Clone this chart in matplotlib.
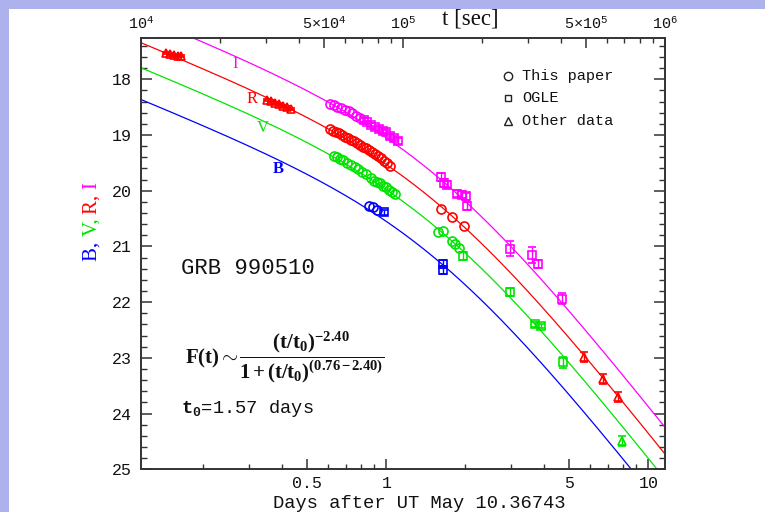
import numpy as np
import matplotlib
matplotlib.use("Agg")
import matplotlib.pyplot as plt
from matplotlib.patches import Rectangle
from matplotlib.ticker import FixedLocator, FixedFormatter, NullFormatter

plt.rcParams['font.family'] = ['Liberation Mono', 'DejaVu Sans']
plt.rcParams['mathtext.fontset'] = 'custom'
plt.rcParams['mathtext.rm'] = 'Liberation Mono'
plt.rcParams['mathtext.it'] = 'Liberation Mono'
plt.rcParams['mathtext.bf'] = 'Liberation Mono:bold'
plt.rcParams['mathtext.sf'] = 'Liberation Serif:bold'

SEC_PER_DAY = 86400.0

# Broken power-law fit parameters
T0 = 1.57
ALPHA1 = 0.76
ALPHA2 = 2.40

BAND_COLORS = {'I': '#ff00ff', 'R': '#ff0000', 'V': '#00e400', 'B': '#0000ff'}
ZERO_POINTS = {'I': 19.00, 'R': 19.48, 'V': 19.93, 'B': 20.50}

# ---- I band ----
I_paper_t = [0.609, 0.631, 0.648, 0.671, 0.695, 0.720, 0.739, 0.766, 0.793]
I_paper_mag = [18.44, 18.46, 18.50, 18.52, 18.55, 18.57, 18.60, 18.66, 18.70]
I_ogle_t = [0.822, 0.844, 0.874, 0.905, 0.937, 0.971, 0.997, 1.032, 1.069, 1.108,
            1.616, 1.660, 1.704, 1.860, 1.944, 2.014, 2.031, 2.965, 3.597, 3.791, 4.682]
I_ogle_mag = [18.73, 18.77, 18.82, 18.86, 18.89, 18.93, 18.95, 19.02, 19.05, 19.11,
              19.75, 19.86, 19.89, 20.05, 20.07, 20.10, 20.27, 21.04, 21.15, 21.31, 21.94]
I_ogle_err = [0.03, 0.03, 0.03, 0.03, 0.03, 0.03, 0.04, 0.04, 0.04, 0.05,
              0.07, 0.07, 0.06, 0.06, 0.06, 0.06, 0.07, 0.13, 0.14, 0.07, 0.10]

# ---- R band ----
R_paper_t = [0.609, 0.626, 0.642, 0.659, 0.677, 0.695, 0.714, 0.733, 0.752, 0.773,
             0.793, 0.814, 0.836, 0.858, 0.881, 0.905, 0.929, 0.954, 0.979, 1.005,
             1.032, 1.616, 1.780, 1.978]
R_paper_mag = [18.89, 18.93, 18.95, 18.97, 19.00, 19.04, 19.05, 19.09, 19.10, 19.14,
               19.18, 19.21, 19.23, 19.27, 19.30, 19.34, 19.37, 19.41, 19.46, 19.50,
               19.55, 20.32, 20.48, 20.64]
R_other_t = [0.144, 0.149, 0.155, 0.160, 0.165,
             0.350, 0.363, 0.376, 0.389, 0.403, 0.418, 0.433,
             5.68, 6.69, 7.68]
R_other_mag = [17.53, 17.55, 17.57, 17.58, 17.58,
               18.37, 18.39, 18.43, 18.44, 18.48, 18.50, 18.54,
               22.99, 23.38, 23.70]
R_other_err = [0.02, 0.02, 0.02, 0.02, 0.02,
               0.02, 0.02, 0.02, 0.02, 0.02, 0.02, 0.02,
               0.09, 0.09, 0.09]

# ---- V band ----
V_paper_t = [0.631, 0.648, 0.665, 0.683, 0.708, 0.733, 0.759, 0.779, 0.807, 0.836,
             0.874, 0.897, 0.921, 0.946, 0.971, 0.997, 1.024, 1.051, 1.079,
             1.580, 1.640, 1.780, 1.828, 1.893]
V_paper_mag = [19.37, 19.39, 19.43, 19.44, 19.50, 19.53, 19.57, 19.61, 19.66, 19.70,
               19.78, 19.82, 19.84, 19.87, 19.91, 19.93, 19.98, 20.02, 20.05,
               20.74, 20.73, 20.90, 20.95, 21.02]
V_ogle_t = [1.961, 2.965, 3.691, 3.893, 4.722]
V_ogle_mag = [21.17, 21.82, 22.40, 22.43, 23.08]
V_ogle_err = [0.07, 0.07, 0.04, 0.04, 0.10]
V_other_t = [7.91]
V_other_mag = [24.49]
V_other_err = [0.09]

# ---- B band ----
B_paper_t = [0.858, 0.889, 0.921]
B_paper_mag = [20.27, 20.30, 20.34]
B_ogle_t = [0.979, 1.645, 1.645]
B_ogle_mag = [20.39, 21.31, 21.42]
B_ogle_err = [0.04, 0.07, 0.07]

# Axis ranges and ticks
T_SEC_MIN, T_SEC_MAX = 1e4, 1e6
MAG_FAINT, MAG_BRIGHT = 25.0, 17.25
DAY_MAJOR = [0.5, 1, 5, 10]
DAY_MAJOR_LABELS = ['0.5', '1', '5', '10']
DAY_MINOR = [0.2, 0.3, 0.4, 0.6, 0.7, 0.8, 0.9, 2, 3, 4, 6, 7, 8, 9]
SEC_MAJOR = [1e4, 5e4, 1e5, 5e5, 1e6]
SEC_MAJOR_LABELS = [r'$10^4$', r'$5{\times}10^4$', r'$10^5$', r'$5{\times}10^5$', r'$10^6$']
SEC_MINOR = [2e4, 3e4, 4e4, 6e4, 7e4, 8e4, 9e4, 2e5, 3e5, 4e5, 6e5, 7e5, 8e5, 9e5]
MAG_MAJOR = [18, 19, 20, 21, 22, 23, 24, 25]


def model_mag(t, m0):
    x = np.asarray(t) / T0
    flux = x ** (-ALPHA2) / (1.0 + x ** (ALPHA1 - ALPHA2))
    return m0 - 2.5 * np.log10(flux)


W, H = 765, 512
fig = plt.figure(figsize=(W / 100, H / 100), dpi=100)
fig.patch.set_facecolor('white')
band_col = '#adb1ec'
fig.patches.append(Rectangle((0, 1 - 8.5 / H), 1, 8.5 / H, transform=fig.transFigure,
                             facecolor=band_col, edgecolor='none', zorder=0))
fig.patches.append(Rectangle((0, 0), 8.5 / W, 1, transform=fig.transFigure,
                             facecolor=band_col, edgecolor='none', zorder=0))

left, right, top, bottom = 141, 665, 37.5, 469.3
ax = fig.add_axes([left / W, 1 - bottom / H, (right - left) / W, (bottom - top) / H])
ax.set_facecolor('white')
ax.set_xscale('log')
ax.set_xlim(T_SEC_MIN / SEC_PER_DAY, T_SEC_MAX / SEC_PER_DAY)
ax.set_ylim(MAG_FAINT, MAG_BRIGHT)

spine_col = '#333333'
for s in ax.spines.values():
    s.set_linewidth(1.2)
    s.set_color(spine_col)

ax.xaxis.set_major_locator(FixedLocator(DAY_MAJOR))
ax.xaxis.set_major_formatter(FixedFormatter(DAY_MAJOR_LABELS))
ax.xaxis.set_minor_locator(FixedLocator(DAY_MINOR))
ax.xaxis.set_minor_formatter(NullFormatter())
ax.yaxis.set_major_locator(FixedLocator(MAG_MAJOR))
ax.yaxis.set_minor_locator(FixedLocator(np.arange(17.4, 25.0, 0.2)))

ax.tick_params(axis='x', which='major', direction='in', length=7, width=1.1,
               top=False, bottom=True, labelsize=12, pad=5, colors=spine_col, labelcolor='#111111')
ax.tick_params(axis='x', which='minor', direction='in', length=3.8, width=1.0,
               top=False, bottom=True, colors=spine_col)
ax.tick_params(axis='y', which='major', direction='in', length=8, width=1.1,
               left=True, right=True, labelsize=12, pad=6.5, colors=spine_col, labelcolor='#111111')
ax.tick_params(axis='y', which='minor', direction='in', length=4.3, width=1.0,
               left=True, right=True, colors=spine_col)

# top axis in seconds
ax2 = ax.twiny()
ax2.set_xscale('log')
ax2.set_xlim(T_SEC_MIN, T_SEC_MAX)
ax2.xaxis.set_major_locator(FixedLocator(SEC_MAJOR))
ax2.xaxis.set_major_formatter(FixedFormatter(SEC_MAJOR_LABELS))
ax2.xaxis.set_minor_locator(FixedLocator(SEC_MINOR))
ax2.xaxis.set_minor_formatter(NullFormatter())
ax2.tick_params(axis='x', which='major', direction='in', length=7, width=1.1,
                labelsize=11, pad=4, colors=spine_col, labelcolor='#111111')
ax2.tick_params(axis='x', which='minor', direction='in', length=3.8, width=1.0, colors=spine_col)
for s in ax2.spines.values():
    s.set_linewidth(1.2)
    s.set_color(spine_col)

# fitted curves
t_grid = np.logspace(np.log10(T_SEC_MIN / SEC_PER_DAY), np.log10(T_SEC_MAX / SEC_PER_DAY), 400)
for band in ['I', 'R', 'V', 'B']:
    ax.plot(t_grid, model_mag(t_grid, ZERO_POINTS[band]), color=BAND_COLORS[band],
            lw=0.9, zorder=2)

ms_c, ms_s, ms_t = 6.5, 5.2, 5.8
mew = 1.2


def paper(t, m, band):
    ax.plot(t, m, ls='none', marker='o', ms=ms_c, mfc='none', mec=BAND_COLORS[band],
            mew=mew, zorder=3)


def with_err(t, m, e, band, marker, ms):
    ax.errorbar(t, m, yerr=e, fmt=marker, ms=ms, mfc='none', mec=BAND_COLORS[band],
                mew=mew, ecolor=BAND_COLORS[band], elinewidth=1.0, capsize=3,
                capthick=1.0, zorder=3)


paper(I_paper_t, I_paper_mag, 'I')
with_err(I_ogle_t, I_ogle_mag, I_ogle_err, 'I', 's', ms_s)
paper(R_paper_t, R_paper_mag, 'R')
with_err(R_other_t, R_other_mag, R_other_err, 'R', '^', ms_t)
paper(V_paper_t, V_paper_mag, 'V')
with_err(V_ogle_t, V_ogle_mag, V_ogle_err, 'V', 's', ms_s)
with_err(V_other_t, V_other_mag, V_other_err, 'V', '^', ms_t)
paper(B_paper_t, B_paper_mag, 'B')
with_err(B_ogle_t, B_ogle_mag, B_ogle_err, 'B', 's', ms_s)

# band labels next to the curves
serif = ['Liberation Serif', 'DejaVu Serif']
ax.text(0.2645, 17.73, 'I', color=BAND_COLORS['I'], family=serif, fontsize=12, ha='center', va='center')
ax.text(0.307, 18.35, 'R', color=BAND_COLORS['R'], family=serif, fontsize=12, ha='center', va='center')
ax.text(0.338, 18.87, 'V', color=BAND_COLORS['V'], family=serif, fontsize=12, ha='center', va='center')
ax.text(0.386, 19.61, 'B', color=BAND_COLORS['B'], family=serif, fontsize=12, ha='center',
        va='center', fontweight='bold')

# legend
leg_rows = [('o', 'This paper', 0.911, ms_c), ('s', 'OGLE', 0.860, ms_s), ('^', 'Other data', 0.807, ms_t)]
for mk, label, yy, ms in leg_rows:
    ax.plot([0.700], [yy], transform=ax.transAxes, marker=mk, ms=ms - 0.5, mfc='none', mec='#222222',
            mew=1.0, ls='none', clip_on=False)
    ax.text(0.727, yy, label, transform=ax.transAxes, fontsize=11, va='center', ha='left',
            color='#111111')

# annotations
ax.text(0.0763, 0.466, 'GRB 990510', transform=ax.transAxes, fontsize=16, va='center',
        ha='left', color='#111111')
ax.text(0.084, 0.260,
        r'$\mathsf{F(t)}{\sim}\dfrac{\mathsf{(t/t_0)}^{\mathsf{-2.40}}}'
        r'{\mathsf{1+(t/t_0)}^{\mathsf{(0.76-2.40)}}}$',
        transform=ax.transAxes, fontsize=15, va='center', ha='left', color='#111111')
ax.text(0.0763, 0.140, r'$\mathbf{t_0}$=1.57 days', transform=ax.transAxes, fontsize=13.5,
        va='center', ha='left', color='#111111')

# axis titles
fig.text(419 / W, 1 - 503 / H, 'Days after UT May 10.36743', fontsize=13.5, ha='center',
         va='center', color='#111111')
fig.text(470 / W, 1 - 19 / H, 't [sec]', fontsize=16.5, family=serif, ha='center', va='center',
         color='#111111')

# multi-coloured y label, stacked bottom to top
pieces = [('B, ', 'B'), ('V, ', 'V'), ('R, ', 'R'), ('I', 'I')]
prev = fig.text(92 / W, 1 - 261 / H, pieces[0][0], rotation=90, ha='center', va='bottom',
                fontsize=15, family=serif, color=BAND_COLORS[pieces[0][1]])
for txt, band in pieces[1:]:
    prev = ax.annotate(txt, xy=(0.5, 1.0), xycoords=prev, rotation=90, ha='center', va='bottom',
                       fontsize=15, family=serif, color=BAND_COLORS[band], annotation_clip=False)

fig.savefig('out.png', dpi=100, facecolor=fig.get_facecolor())
